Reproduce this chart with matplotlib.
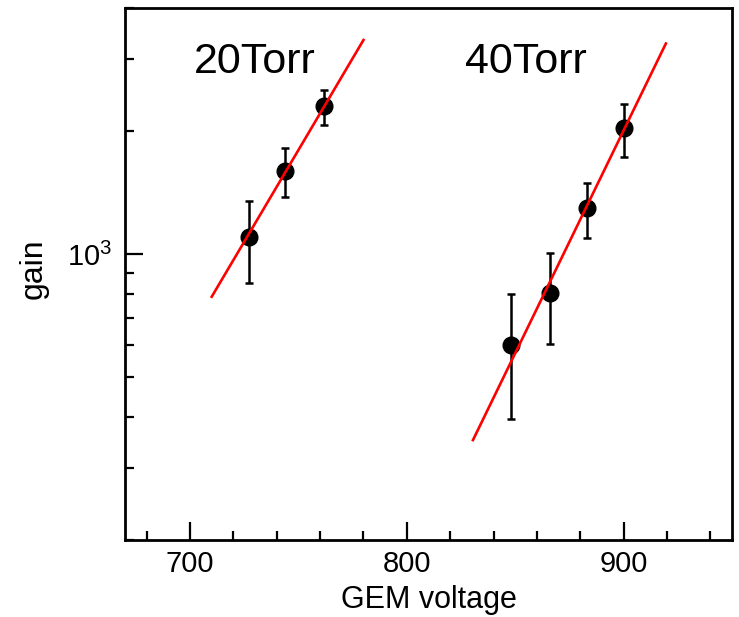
import numpy as np
import matplotlib
matplotlib.use("Agg")
import matplotlib.pyplot as plt
from matplotlib.ticker import LogLocator, FixedLocator, NullFormatter

plt.rcParams['font.family'] = ['Liberation Sans', 'DejaVu Sans']

# 20 Torr measurements
v_20 = [727, 744, 762]
gain_20 = [1100, 1600, 2300]
err_20 = [250, 220, 225]
# fitted line (endpoints)
fit_v_20 = [710, 780]
fit_gain_20 = [787, 3340]

# 40 Torr measurements
v_40 = [848, 866, 883, 900]
gain_40 = [598, 805, 1295, 2030]
err_40 = [203, 202, 200, 300]
fit_v_40 = [830.5, 919.5]
fit_gain_40 = [351, 3275]

labels = ["20Torr", "40Torr"]
label_pos = [(702, 2780), (827, 2780)]

fig = plt.figure(figsize=(7.39, 6.17), dpi=100)
ax = fig.add_axes([125 / 739, 77 / 617, 607 / 739, 532 / 617])

for v, g, e in [(v_20, gain_20, err_20), (v_40, gain_40, err_40)]:
    ax.errorbar(v, g, yerr=e, fmt='o', color='black', markersize=12,
                elinewidth=1.8, capsize=3, capthick=1.8, zorder=2)

ax.plot(fit_v_20, fit_gain_20, color='red', lw=1.9, zorder=3)
ax.plot(fit_v_40, fit_gain_40, color='red', lw=1.9, zorder=3)

for txt, (x, y) in zip(labels, label_pos):
    ax.text(x, y, txt, fontsize=31, color='black', ha='left', va='baseline')

ax.set_yscale('log')
ax.set_xlim(670, 950)
ax.set_ylim(200, 4000)

ax.xaxis.set_major_locator(FixedLocator([700, 800, 900]))
ax.xaxis.set_minor_locator(FixedLocator(np.arange(680, 950, 20)))
ax.yaxis.set_major_locator(LogLocator(base=10, numticks=5))
ax.yaxis.set_minor_locator(LogLocator(base=10, subs=np.arange(2, 10), numticks=12))
ax.yaxis.set_minor_formatter(NullFormatter())

ax.tick_params(which='both', direction='in', top=False, right=False,
               width=1.6, labelsize=21, colors='black')
ax.tick_params(which='major', length=13)
ax.tick_params(which='minor', length=6.5)
ax.tick_params(axis='x', pad=7)
ax.tick_params(axis='y', pad=9)
for s in ax.spines.values():
    s.set_linewidth(2)

ax.set_xlabel('GEM voltage', fontsize=22)
ax.set_ylabel('gain', fontsize=23)
ax.xaxis.set_label_coords(0.5, -0.085)
ax.yaxis.set_label_coords(-0.125, 0.51)

fig.savefig('out.png', dpi=100)
